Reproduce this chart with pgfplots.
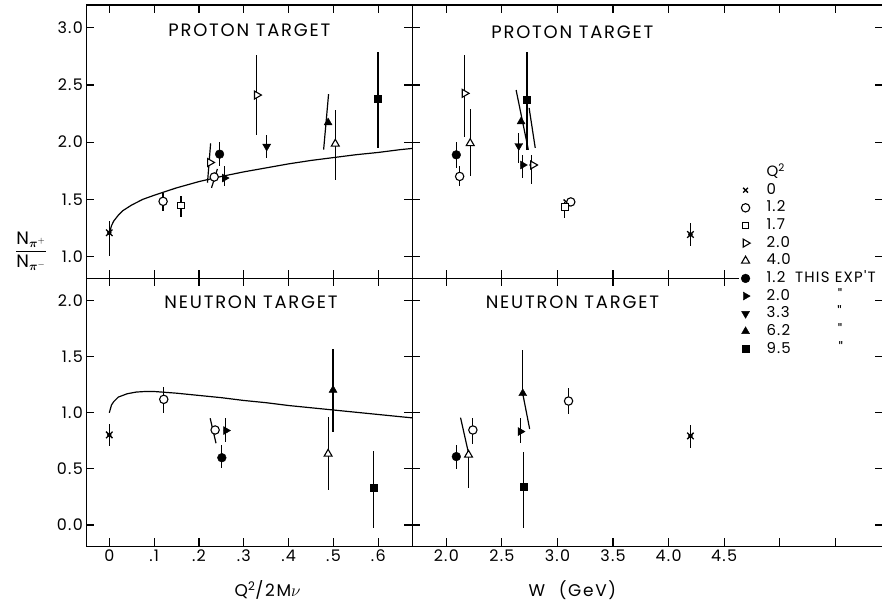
\documentclass[border=0pt]{standalone}
\usepackage{fontspec}
\setmainfont{Poppins}
\newfontfamily\tfam[LetterSpace=10]{Poppins}
\newfontfamily\nfam[LetterSpace=8]{Poppins}
\newfontfamily\lfam[LetterSpace=8]{Poppins}
\usepackage{amsmath}
\usepackage{pgfplots}
\pgfplotsset{compat=1.18}
\newlength{\expw}
\newcommand{\tfont}{\tfam\fontsize{18}{21}\selectfont}
\newcommand{\lfont}{\lfam\fontsize{15}{18}\selectfont}
\pgfplotsset{
  base/.style={scale only axis, clip=false,
    axis line style={line width=1.2pt},
    tick style={line width=1.1pt, black},
    tick align=inside, major tick length=8pt,
    ticklabel style={font=\nfam\fontsize{16}{19}\selectfont},
    minor tick num=0},
  ebar/.style={only marks, mark=none, black,
    error bars/.cd, y dir=both, y explicit, error mark=none,
    error bar style={line width=1.2pt, black}, /pgfplots/.cd},
  seg/.style={black, line width=1.2pt, mark=none},
  mX/.style={only marks, mark=x, mark size=4.6pt, mark options={black, line width=1.3pt}},
  mO/.style={only marks, mark=*, mark size=4.2pt, mark options={draw=black, fill=white, line width=1.1pt}},
  mS/.style={only marks, mark=square*, mark size=3.2pt, mark options={draw=black, fill=white, line width=1.1pt}},
  mR/.style={only marks, mark=triangle*, mark size=4.6pt, mark options={draw=black, fill=white, line width=1.1pt, rotate=-90}},
  mU/.style={only marks, mark=triangle*, mark size=4.6pt, mark options={draw=black, fill=white, line width=1.1pt}},
  fO/.style={only marks, mark=*, mark size=4.4pt, mark options={black, fill=black}},
  fR/.style={only marks, mark=triangle*, mark size=4.6pt, mark options={black, fill=black, rotate=-90}},
  fD/.style={only marks, mark=triangle*, mark size=4.6pt, mark options={black, fill=black, rotate=180}},
  fU/.style={only marks, mark=triangle*, mark size=4.6pt, mark options={black, fill=black}},
  fS/.style={only marks, mark=square*, mark size=3.5pt, mark options={black, fill=black}},
}
\begin{document}
\settowidth{\expw}{\lfont THIS EXP'T}
\begin{tikzpicture}[x=1pt,y=1pt]
\useasboundingbox (0,0) rectangle (886,603);

% ---------------- top left: proton vs Q^2/2Mnu
\begin{axis}[base, at={(84pt,324pt)}, anchor=south west, width=327pt, height=274pt,
  xmin=-0.051, xmax=0.676, ymin=0.81, ymax=3.2,
  xtick={0,0.1,0.2,0.3,0.4,0.5,0.6}, xticklabels={},
  ytick={1,1.5,2,2.5,3}, yticklabels={1.0,1.5,2.0,2.5,3.0}]
\addplot[seg] coordinates {(0,1.20) (0.005,1.27) (0.01,1.31) (0.02,1.36) (0.03,1.40) (0.05,1.45) (0.075,1.50) (0.1,1.535) (0.15,1.60) (0.2,1.655) (0.25,1.70) (0.3,1.74) (0.35,1.775) (0.4,1.81) (0.45,1.84) (0.5,1.865) (0.55,1.89) (0.6,1.91) (0.65,1.935) (0.676,1.945)};
\addplot[ebar] coordinates {
 (0,1.207) += (0,0.101) -= (0,0.204)
 (0.120,1.482) += (0,0.073) -= (0,0.087)
 (0.160,1.445) += (0,0.081) -= (0,0.099)
 (0.246,1.895) += (0,0.110) -= (0,0.108)
 (0.257,1.686) += (0,0.101) -= (0,0.073)
 (0.329,2.412) += (0,0.349) -= (0,0.348)
 (0.351,1.962) += (0,0.098) -= (0,0.102)
 (0.504,1.985) += (0,0.295) -= (0,0.315)
 (0.599,2.377) += (0,0.413) -= (0,0.429)};
\addplot[seg] coordinates {(0.226,1.99) (0.219,1.645)};
\addplot[seg] coordinates {(0.241,1.765) (0.228,1.60)};
\addplot[seg] coordinates {(0.489,2.42) (0.478,1.935)};
\addplot[mX] coordinates {(0,1.207)};
\addplot[mO] coordinates {(0.120,1.482) (0.234,1.695)};
\addplot[mS] coordinates {(0.160,1.445)};
\addplot[mR] coordinates {(0.2244,1.822) (0.329,2.412)};
\addplot[mU] coordinates {(0.504,1.985)};
\addplot[fO] coordinates {(0.246,1.895)};
\addplot[fR] coordinates {(0.257,1.686)};
\addplot[fD] coordinates {(0.351,1.962)};
\addplot[fU] coordinates {(0.488,2.171)};
\addplot[fS] coordinates {(0.599,2.377)};
\node[font=\tfont] at (rel axis cs:0.50,0.909) {PROTON TARGET};
\node[anchor=east, font=\fontsize{18}{21}\selectfont] at (rel axis cs:0,0.0985) [xshift=-36pt]
  {$\dfrac{\text{N}_{\boldsymbol{\pi}^{+}}}{\text{N}_{\boldsymbol{\pi}^{-}}}$};
\end{axis}

% ---------------- bottom left: neutron vs Q^2/2Mnu
\begin{axis}[base, at={(84pt,55pt)}, anchor=south west, width=327pt, height=269pt,
  xmin=-0.051, xmax=0.676, ymin=-0.19, ymax=2.2,
  xtick={0,0.1,0.2,0.3,0.4,0.5,0.6}, xticklabels={0,.1,.2,.3,.4,.5,.6},
  ytick={0,0.5,1,1.5,2}, yticklabels={0.0,0.5,1.0,1.5,2.0}]
\addplot[seg] coordinates {(0,1.0) (0.005,1.07) (0.01,1.10) (0.02,1.14) (0.04,1.17) (0.06,1.185) (0.08,1.19) (0.1,1.19) (0.15,1.175) (0.2,1.155) (0.25,1.135) (0.3,1.11) (0.35,1.09) (0.4,1.065) (0.45,1.045) (0.5,1.025) (0.55,1.005) (0.6,0.985) (0.65,0.965) (0.676,0.955)};
\addplot[ebar] coordinates {
 (0,0.803) += (0,0.095) -= (0,0.103)
 (0.1215,1.12) += (0,0.113) -= (0,0.124)
 (0.260,0.842) += (0,0.109) -= (0,0.098)
 (0.251,0.60) += (0,0.114) -= (0,0.093)
 (0.499,1.203) += (0,0.37) -= (0,0.37)
 (0.488,0.634) += (0,0.332) -= (0,0.32)
 (0.590,0.329) += (0,0.331) -= (0,0.356)};
\addplot[seg] coordinates {(0.225,0.951) (0.238,0.729)};
\addplot[mX] coordinates {(0,0.803)};
\addplot[mO] coordinates {(0.1215,1.12) (0.236,0.847)};
\addplot[mU] coordinates {(0.488,0.634)};
\addplot[fO] coordinates {(0.251,0.60)};
\addplot[fR] coordinates {(0.260,0.842)};
\addplot[fU] coordinates {(0.499,1.203)};
\addplot[fS] coordinates {(0.590,0.329)};
\node[font=\tfont] at (rel axis cs:0.505,0.911) {NEUTRON TARGET};
\node[anchor=north, font=\tfam\fontsize{17}{20}\selectfont] at (rel axis cs:0.556,0) [yshift=-31pt] {Q\textsuperscript{2}/2M$\nu$};
\end{axis}

% ---------------- top right: proton vs W
\begin{axis}[base, at={(411pt,324pt)}, anchor=south west, width=472pt, height=274pt,
  xmin=1.695, xmax=5.93, ymin=0.81, ymax=3.2,
  xtick={2,2.5,3,3.5,4,4.5,5,5.5}, xticklabels={},
  ytick={1,1.5,2,2.5,3}, yticklabels={}]
\fill[white] (axis cs:5.92,0.75) rectangle (axis cs:5.946,3.26);
\addplot[ebar] coordinates {
 (2.09,1.889) += (0,0.116) -= (0,0.116)
 (2.12,1.70) += (0,0.087) -= (0,0.087)
 (2.164,2.427) += (0,0.334) -= (0,0.378)
 (2.215,1.99) += (0,0.298) -= (0,0.29)
 (2.652,1.968) += (0,0.11) -= (0,0.151)
 (2.688,1.80) += (0,0.089) -= (0,0.11)
 (2.726,2.369) += (0,0.421) -= (0,0.436)
 (2.768,1.80) += (0,0.09) -= (0,0.17)
 (3.067,1.433) += (0,0.047) -= (0,0.096)
 (4.197,1.192) += (0,0.102) -= (0,0.102)};
\addplot[seg] coordinates {(2.628,2.456) (2.738,1.933)};
\addplot[seg] coordinates {(2.745,2.30) (2.80,1.95)};
\addplot[mX] coordinates {(3.085,1.47) (4.197,1.192)};
\addplot[mO] coordinates {(2.12,1.70) (3.12,1.477)};
\addplot[mS] coordinates {(3.067,1.433)};
\addplot[mR] coordinates {(2.164,2.427) (2.78,1.80)};
\addplot[mU] coordinates {(2.215,1.99)};
\addplot[fO] coordinates {(2.09,1.889)};
\addplot[fR] coordinates {(2.688,1.80)};
\addplot[fD] coordinates {(2.652,1.968)};
\addplot[fU] coordinates {(2.673,2.18)};
\addplot[fS] coordinates {(2.726,2.369)};
\node[font=\tfont] at (rel axis cs:0.34,0.90) {PROTON TARGET};
\end{axis}

% ---------------- bottom right: neutron vs W
\begin{axis}[base, at={(411pt,55pt)}, anchor=south west, width=472pt, height=269pt,
  xmin=1.695, xmax=5.93, ymin=-0.19, ymax=2.2,
  xtick={2,2.5,3,3.5,4,4.5,5,5.5}, xticklabels={2.0,2.5,3.0,3.5,4.0,4.5,,},
  ytick={0,0.5,1,1.5,2}, yticklabels={},
  legend cell align=left,
  legend image code/.code={\path[draw=none, fill=none] (0pt,-1pt) rectangle (17pt,1pt); \draw[#1] plot coordinates {(8.5pt,0pt)};},
  legend style={at={(rel axis cs:0.6895,1.4275)}, anchor=north west, draw=none, fill=none,
    inner sep=0pt, font=\lfont, row sep=0pt,
    nodes={inner sep=1pt, text height=12pt, text depth=3.7pt},
    /tikz/every odd column/.append style={column sep=11.5pt}}]
\fill[white] (axis cs:5.92,-0.25) rectangle (axis cs:5.946,2.26);
\fill[white] (axis cs:4.63,2.09) rectangle (axis cs:5.95,2.31);
\addplot[forget plot, ebar] coordinates {
 (2.09,0.61) += (0,0.104) -= (0,0.11)
 (2.20,0.625) += (0,0) -= (0,0.296)
 (2.239,0.847) += (0,0.11) -= (0,0.127)
 (2.688,1.173) += (0,0.385) -= (0,0)
 (2.667,0.833) += (0,0.118) -= (0,0.104)
 (2.697,0.338) += (0,0.317) -= (0,0.365)
 (3.10,1.105) += (0,0.119) -= (0,0.118)
 (4.197,0.794) += (0,0.098) -= (0,0.11)};
\addplot[forget plot, seg] coordinates {(2.128,0.957) (2.20,0.64)};
\addplot[forget plot, seg] coordinates {(2.69,1.16) (2.75,0.856)};
\addplot[forget plot, mX] coordinates {(4.197,0.794)};
\addplot[forget plot, mO] coordinates {(2.239,0.847) (3.10,1.105)};
\addplot[forget plot, mU] coordinates {(2.20,0.625)};
\addplot[forget plot, fO] coordinates {(2.09,0.61)};
\addplot[forget plot, fR] coordinates {(2.667,0.833)};
\addplot[forget plot, fU] coordinates {(2.688,1.173)};
\addplot[forget plot, fS] coordinates {(2.697,0.338)};
\addlegendimage{empty legend}\addlegendentry{Q\textsuperscript{2}}
\addlegendimage{mX, mark size=3.4pt}\addlegendentry{0}
\addlegendimage{mO}\addlegendentry{1.2}
\addlegendimage{mS}\addlegendentry{1.7}
\addlegendimage{mR}\addlegendentry{2.0}
\addlegendimage{mU}\addlegendentry{4.0}
\addlegendimage{fO}\addlegendentry{1.2\hspace{0.65em}THIS EXP'T}
\addlegendimage{fR}\addlegendentry{2.0\hspace{0.65em}\makebox[\expw]{"}}
\addlegendimage{fD}\addlegendentry{3.3\hspace{0.65em}\makebox[\expw]{"}}
\addlegendimage{fU}\addlegendentry{6.2\hspace{0.65em}\makebox[\expw]{"}}
\addlegendimage{fS}\addlegendentry{9.5\hspace{0.65em}\makebox[\expw]{"}}
\node[font=\tfont] at (rel axis cs:0.34,0.911) {NEUTRON TARGET};
\node[anchor=north, font=\tfam\fontsize{17}{20}\selectfont] at (rel axis cs:0.34,0) [yshift=-31pt] {W\hspace{0.8em}(GeV)};
\end{axis}
\end{tikzpicture}
\end{document}
